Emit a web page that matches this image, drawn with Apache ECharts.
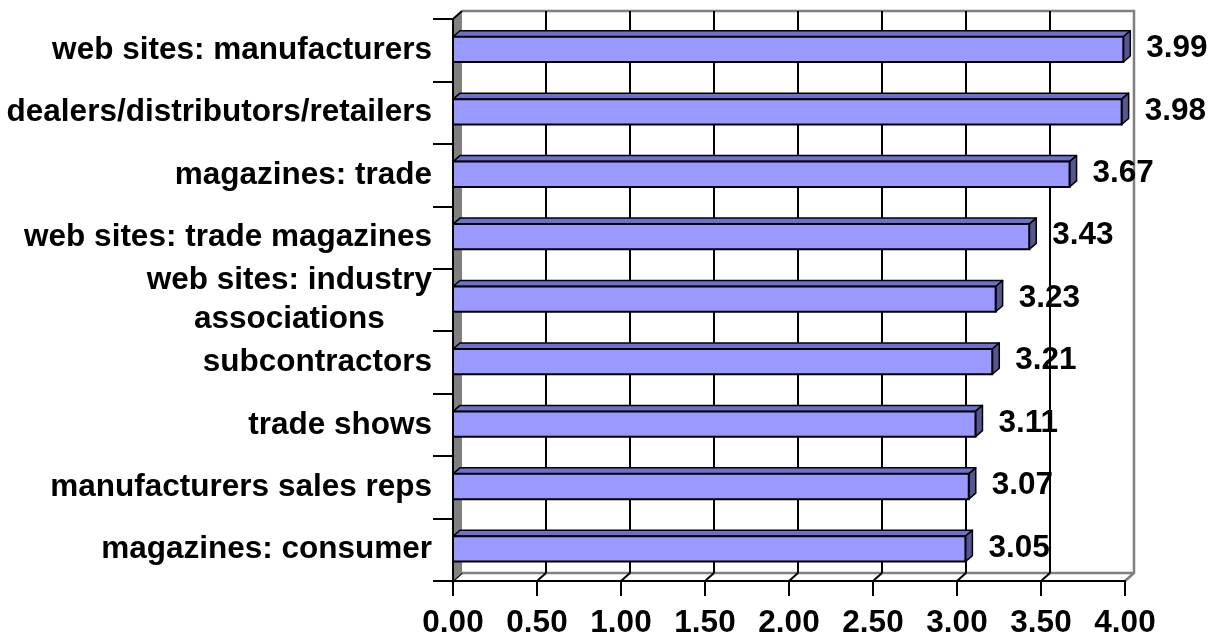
<!DOCTYPE html>
<html>
<head>
<meta charset="utf-8">
<title>Information sources – mean rating</title>
<script src="https://cdn.jsdelivr.net/npm/echarts@6/dist/echarts.min.js"></script>
<style>
  html, body { margin: 0; padding: 0; background: #ffffff; }
  #chart { width: 1219px; height: 639px; }
</style>
</head>
<body>
<div id="chart"></div>
<script>
// Source categories, top to bottom
const categories = [
  'web sites: manufacturers',
  'dealers/distributors/retailers',
  'magazines: trade',
  'web sites: trade magazines',
  'web sites: industry\nassociations',
  'subcontractors',
  'trade shows',
  'manufacturers sales reps',
  'magazines: consumer'
];
// Mean rating per source
const ratings = [3.99, 3.98, 3.67, 3.43, 3.23, 3.21, 3.11, 3.07, 3.05];
// Value-axis ticks
const tickValues = [0, 0.5, 1, 1.5, 2, 2.5, 3, 3.5, 4];

const FONT = '"Liberation Sans", Arial, sans-serif';
const FONT_SIZE = 31.5;
const WALL = { dx: 9, dy: 8 };   // depth of the back wall / floor
const BAR = { dx: 7, dy: 6 };    // depth of each bar
const COLORS = {
  front: '#9999ff',
  top: '#6f6fcc',
  side: '#55558f',
  wall: '#808080',
  edge: '#808080'
};

const chart = echarts.init(document.getElementById('chart'), null, { renderer: 'canvas' });

// plot-area bounds in pixels, derived from the axes
function plotBounds(api) {
  const band = api.size([0, 1])[1];
  const c0 = api.coord([0, 0]);
  const left = c0[0];
  const right = api.coord([tickValues[tickValues.length - 1], 0])[0];
  const top = c0[1] - band / 2;
  const bottom = top + band * categories.length;
  return { left, right, top, bottom, band };
}

// back wall, floor and side wall with their grid lines
function renderFrame(params, api) {
  const b = plotBounds(api);
  const x = api.coord([api.value(0), 0])[0];
  const isLast = params.dataIndex === tickValues.length - 1;
  const children = [];
  if (params.dataIndex === 0) {
    // floor
    children.push({
      type: 'polygon',
      shape: { points: [[b.left, b.bottom], [b.right, b.bottom], [b.right + WALL.dx, b.bottom - WALL.dy], [b.left + WALL.dx, b.bottom - WALL.dy]] },
      style: { fill: '#ffffff', stroke: null }
    });
    // back wall outline
    children.push({
      type: 'polyline',
      shape: { points: [[b.left + WALL.dx, b.top - WALL.dy], [b.right + WALL.dx, b.top - WALL.dy], [b.right + WALL.dx, b.bottom - WALL.dy], [b.right, b.bottom]] },
      style: { fill: null, stroke: COLORS.edge, lineWidth: 2.5 }
    });
    children.push({
      type: 'line',
      shape: { x1: b.left + WALL.dx, y1: b.bottom - WALL.dy, x2: b.right + WALL.dx, y2: b.bottom - WALL.dy },
      style: { stroke: COLORS.edge, lineWidth: 2.5 }
    });
  }
  // vertical grid line on the back wall
  if (!isLast && params.dataIndex !== 0) {
    children.push({
      type: 'line',
      shape: { x1: x + WALL.dx, y1: b.top - WALL.dy, x2: x + WALL.dx, y2: b.bottom - WALL.dy },
      style: { stroke: '#000000', lineWidth: 2 }
    });
  }
  // grid line across the floor
  children.push({
    type: 'line',
    shape: { x1: x + WALL.dx, y1: b.bottom - WALL.dy, x2: x, y2: b.bottom },
    style: { stroke: isLast ? COLORS.edge : '#000000', lineWidth: 2 }
  });
  if (params.dataIndex === 0) {
    // side wall
    children.push({
      type: 'polygon',
      shape: { points: [[b.left, b.top], [b.left + WALL.dx, b.top - WALL.dy], [b.left + WALL.dx, b.bottom - WALL.dy], [b.left, b.bottom]] },
      style: { fill: COLORS.wall, stroke: null }
    });
    children.push({
      type: 'line',
      shape: { x1: b.left, y1: b.top, x2: b.left + WALL.dx, y2: b.top - WALL.dy },
      style: { stroke: '#000000', lineWidth: 2 }
    });
  }
  return { type: 'group', children };
}

// one 3-D bar: front face, top face, end face and value label
function renderBar(params, api) {
  const v = api.value(0);
  const idx = api.value(1);
  const start = api.coord([0, idx]);
  const end = api.coord([v, idx]);
  const band = api.size([0, 1])[1];
  const h = band * 0.405;
  const y0 = end[1] - band * 0.216;
  const x0 = start[0];
  const x1 = end[0];
  return {
    type: 'group',
    children: [
      {
        type: 'polygon',
        shape: { points: [[x0, y0], [x1, y0], [x1 + BAR.dx, y0 - BAR.dy], [x0 + BAR.dx, y0 - BAR.dy]] },
        style: { fill: COLORS.top, stroke: '#000000', lineWidth: 1.5, lineJoin: 'round' }
      },
      {
        type: 'polygon',
        shape: { points: [[x1, y0], [x1 + BAR.dx, y0 - BAR.dy], [x1 + BAR.dx, y0 + h - BAR.dy], [x1, y0 + h]] },
        style: { fill: COLORS.side, stroke: '#000000', lineWidth: 1.5, lineJoin: 'round' }
      },
      {
        type: 'rect',
        shape: { x: x0, y: y0, width: x1 - x0, height: h },
        style: { fill: COLORS.front, stroke: '#000000', lineWidth: 2 }
      },
      {
        type: 'text',
        x: x1 + 23,
        y: y0 + h / 2 - 1,
        style: {
          text: v.toFixed(2),
          fill: '#000000',
          font: 'bold ' + FONT_SIZE + 'px ' + FONT,
          align: 'left',
          verticalAlign: 'middle'
        }
      }
    ]
  };
}

const option = {
  backgroundColor: '#ffffff',
  animation: false,
  grid: { left: 453, top: 19, width: 672, height: 563, containLabel: false },
  xAxis: {
    type: 'value',
    min: 0,
    max: 4,
    interval: 0.5,
    z: 5,
    axisLine: { show: true, lineStyle: { color: '#000000', width: 2 } },
    axisTick: { show: true, length: 15, lineStyle: { color: '#000000', width: 2 } },
    axisLabel: {
      margin: 26,
      formatter: v => v.toFixed(2),
      color: '#000000',
      fontFamily: FONT,
      fontSize: FONT_SIZE,
      fontWeight: 'bold'
    },
    splitLine: { show: false }
  },
  yAxis: {
    type: 'category',
    data: categories,
    inverse: true,
    z: 5,
    axisLine: { show: true, lineStyle: { color: '#000000', width: 2 } },
    axisTick: { show: true, length: 20, lineStyle: { color: '#000000', width: 2 } },
    axisLabel: {
      margin: 21,
      formatter: v => v.split('\n').map(s => '{c|' + s + '}').join('\n'),
      rich: {
        c: {
          align: 'center',
          color: '#000000',
          fontFamily: FONT,
          fontSize: FONT_SIZE,
          fontWeight: 'bold',
          lineHeight: 39
        }
      }
    },
    splitLine: { show: false }
  },
  series: [
    {
      type: 'custom',
      name: 'frame',
      z: 1,
      silent: true,
      renderItem: renderFrame,
      encode: { x: 0, y: 1 },
      data: tickValues.map(t => [t, 0])
    },
    {
      type: 'custom',
      name: 'rating',
      z: 2,
      renderItem: renderBar,
      encode: { x: 0, y: 1 },
      data: ratings.map((r, i) => [r, i])
    }
  ]
};

chart.setOption(option);
</script>
</body>
</html>
